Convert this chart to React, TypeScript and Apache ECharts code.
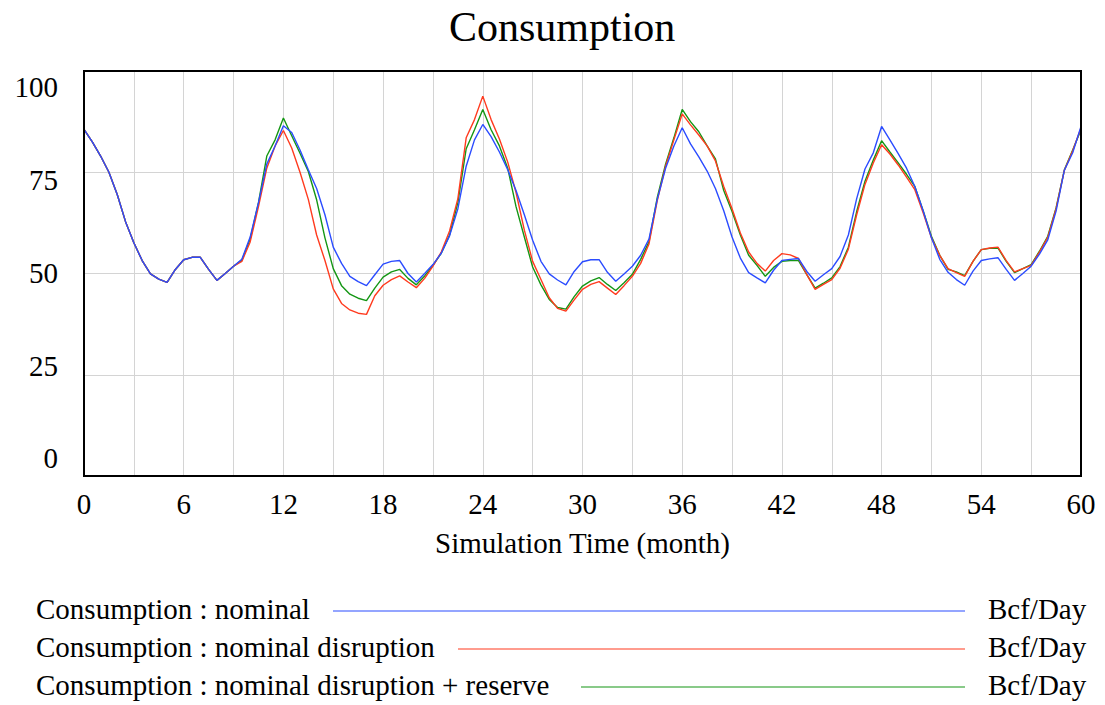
import React, { useEffect, useRef } from "react";
import * as echarts from "echarts";

const time = [
  0, 0.5, 1, 1.5, 2, 2.5, 3, 3.5, 4, 4.5, 5, 5.5, 6, 6.5, 7, 7.5, 8, 8.5, 9, 9.5,
  10, 10.5, 11, 11.5, 12, 12.5, 13, 13.5, 14, 14.5, 15, 15.5, 16, 16.5, 17, 17.5, 18, 18.5, 19, 19.5,
  20, 20.5, 21, 21.5, 22, 22.5, 23, 23.5, 24, 24.5, 25, 25.5, 26, 26.5, 27, 27.5, 28, 28.5, 29, 29.5,
  30, 30.5, 31, 31.5, 32, 32.5, 33, 33.5, 34, 34.5, 35, 35.5, 36, 36.5, 37, 37.5, 38, 38.5, 39, 39.5,
  40, 40.5, 41, 41.5, 42, 42.5, 43, 43.5, 44, 44.5, 45, 45.5, 46, 46.5, 47, 47.5, 48, 48.5, 49, 49.5,
  50, 50.5, 51, 51.5, 52, 52.5, 53, 53.5, 54, 54.5, 55, 55.5, 56, 56.5, 57, 57.5, 58, 58.5, 59, 59.5,
  60,
];

const nominal = [
  85.6, 82.5, 79, 75, 69.5, 62.8, 57.6, 53.2, 49.9, 48.6, 47.8, 51, 53.4, 54, 54, 51, 48.3, 50, 51.8, 53.5,
  59, 67.5, 77, 81.5, 86.5, 84.8, 80.5, 75.6, 71, 64.5, 56.5, 52.5, 49.3, 48, 47, 49.7, 52.3, 53, 53.2, 50,
  47.9, 50, 52.2, 55, 59.3, 66, 76.5, 83, 86.8, 83.8, 80, 75.6, 70.5, 64.5, 58.2, 53, 49.9, 48.4, 47.2, 50.5,
  52.9, 53.4, 53.4, 50.3, 48.1, 49.9, 51.8, 54.5, 58.5, 68.3, 76, 81.5, 86, 82, 78.8, 75.3, 71, 65.5, 59, 53.8,
  50.2, 48.9, 47.7, 50.8, 53.2, 53.5, 53.7, 50.5, 48.1, 49.7, 51.2, 54.2, 59.5, 68.5, 75.8, 79.8, 86.3, 83, 79.6, 76,
  71.5, 65.5, 58.8, 53.5, 50.3, 48.5, 47.1, 50.6, 53.2, 53.6, 53.9, 51, 48.3, 50, 51.8, 54.8, 58.3, 65.4, 75.5, 79.8,
  86.3,
];

const disruption = [
  85.6, 82.5, 79, 75, 69.5, 62.8, 57.6, 53.2, 49.9, 48.6, 47.8, 51, 53.4, 54, 54, 51, 48.3, 50, 51.8, 53,
  57.8, 66.5, 76, 81.5, 85.3, 81, 75, 68.3, 59.5, 53.2, 46.2, 42.6, 41, 40.2, 39.9, 44.5, 47.1, 48.5, 49.4, 47.9,
  46.5, 48.8, 51.8, 55.3, 60.5, 68.5, 83.5, 88, 93.8, 88, 83.2, 77.5, 70, 60.7, 53, 48.5, 44, 41.4, 40.7, 43.5,
  46.1, 47.3, 48, 46.4, 44.8, 47, 49.3, 52.5, 57.3, 68, 76.5, 83, 89.4, 86.7, 84.2, 81.5, 77.8, 71.5, 66, 60,
  55.3, 52.5, 50.6, 53.2, 54.9, 54.6, 53.7, 49.7, 46.1, 47.3, 48.5, 51.3, 56, 64.5, 72, 77.3, 81.8, 79.5, 76.8, 73.8,
  70.7, 65, 58.8, 54.5, 51.2, 50.2, 49.3, 53, 55.9, 56.3, 56.5, 53.2, 50.4, 51.2, 52, 55.3, 58.9, 66, 75.5, 80.3,
  85.9,
];

const reserve = [
  85.6, 82.5, 79, 75, 69.5, 62.8, 57.6, 53.2, 49.9, 48.6, 47.8, 51, 53.4, 54, 54, 51, 48.3, 50, 51.8, 53.3,
  58.5, 67.5, 79, 83, 88.4, 84, 79.7, 75.2, 68.2, 58.8, 51.2, 47, 44.9, 43.9, 43.3, 46.4, 49.1, 50.4, 51, 48.8,
  47.2, 49.4, 52, 55, 59.5, 67.5, 80.8, 85.5, 90.5, 85.5, 81.5, 76, 66.5, 59, 51.6, 47.2, 43.6, 41.6, 41.2, 44.3,
  46.9, 48.2, 49, 47.3, 45.8, 47.7, 49.8, 53.5, 57.8, 68.8, 77, 83.5, 90.5, 87.5, 85, 81.5, 78.3, 70.5, 65.3, 59.5,
  54.5, 52, 49.3, 51.5, 53, 53.2, 53.2, 49.7, 46.4, 47.6, 48.9, 51.7, 56.5, 65.3, 72.8, 78, 82.8, 80, 77.3, 74.5,
  71.5, 65.5, 59.2, 54.5, 51, 50.4, 49.5, 53, 55.9, 56.2, 56.3, 53, 50.2, 51.2, 52.2, 55.5, 59.2, 66.2, 75.6, 80.5,
  85.5,
];

const seriesNames = [
  "Consumption : nominal",
  "Consumption : nominal disruption",
  "Consumption : nominal disruption + reserve",
];
const unitLabel = "Bcf/Day";
const titleText = "Consumption";
const xAxisName = "Simulation Time (month)";
const xTickLabels = [0, 6, 12, 18, 24, 30, 36, 42, 48, 54, 60];
const yTickLabels = [0, 25, 50, 75, 100];

const colors = ["#2b4cff", "#ff3b1f", "#149614"];

export default function App() {
  const ref = useRef<HTMLDivElement>(null);

  useEffect(() => {
    document.body.style.margin = "0";
    if (!ref.current) return;
    const chart = echarts.init(ref.current, null, { renderer: "svg" });
    const font = "Liberation Serif";
    const pair = (arr: number[]) => time.map((t, i) => [t, arr[i]]);
    // drawing order: reserve (green), disruption (red), nominal (blue) on top
    const allSeries = [reserve, disruption, nominal];
    const allColors = [colors[2], colors[1], colors[0]];
    const allNames = [seriesNames[2], seriesNames[1], seriesNames[0]];

    const legendRowY = [611, 649, 687];
    const legendLineStart = [333, 458, 581];
    const legendLineEnd = 965;

    const graphics: any[] = [];
    seriesNames.forEach((name, i) => {
      graphics.push({
        type: "text",
        left: 36,
        top: legendRowY[i] - 17,
        style: { text: name, fill: "#000", fontSize: 29, fontFamily: font },
      });
      graphics.push({
        type: "line",
        shape: { x1: legendLineStart[i], y1: legendRowY[i], x2: legendLineEnd, y2: legendRowY[i] },
        style: { stroke: colors[i], lineWidth: 1.2 },
      });
      graphics.push({
        type: "text",
        left: 988,
        top: legendRowY[i] - 17,
        style: { text: unitLabel, fill: "#000", fontSize: 29, fontFamily: font },
      });
    });

    chart.setOption({
      animation: false,
      backgroundColor: "#fff",
      textStyle: { fontFamily: font },
      title: {
        text: titleText,
        left: 449,
        top: 6,
        padding: 0,
        textStyle: { fontSize: 42, fontWeight: "normal", color: "#000", fontFamily: font },
      },
      grid: {
        left: 84,
        right: 24,
        top: 71,
        bottom: 229,
        show: true,
        borderColor: "#000",
        borderWidth: 2,
        backgroundColor: "transparent",
        z: 10,
      },
      xAxis: {
        type: "value",
        min: 0,
        max: 60,
        interval: 3,
        name: xAxisName,
        nameLocation: "middle",
        nameGap: 52,
        nameTextStyle: { fontSize: 29, color: "#000", fontFamily: font },
        axisLine: { show: false },
        axisTick: { show: false },
        axisLabel: {
          customValues: xTickLabels,
          fontSize: 29,
          color: "#000",
          fontFamily: font,
          margin: 13,
        },
        splitLine: { show: true, lineStyle: { color: "#d4d4d4", width: 1 } },
      },
      yAxis: [
        {
          type: "value",
          min: 0,
          max: 100,
          interval: 25,
          axisLine: { show: false },
          axisTick: { show: false },
          axisLabel: { show: false },
          splitLine: { show: true, lineStyle: { color: "#d4d4d4", width: 1 } },
        },
        {
          type: "value",
          position: "left",
          min: -4.77,
          max: 104.39,
          axisLine: { show: false },
          axisTick: { show: false },
          splitLine: { show: false },
          axisLabel: {
            customValues: yTickLabels,
            fontSize: 29,
            color: "#000",
            fontFamily: font,
            margin: 26,
          },
        },
      ],
      series: allSeries.map((arr, i) => ({
        name: allNames[i],
        type: "line",
        data: pair(arr),
        yAxisIndex: 0,
        showSymbol: false,
        symbol: "none",
        lineStyle: { color: allColors[i], width: 1.4 },
        itemStyle: { color: allColors[i] },
      })),
      graphic: graphics,
    });

    return () => chart.dispose();
  }, []);

  return <div ref={ref} style={{ width: 1105, height: 705 }} />;
}
